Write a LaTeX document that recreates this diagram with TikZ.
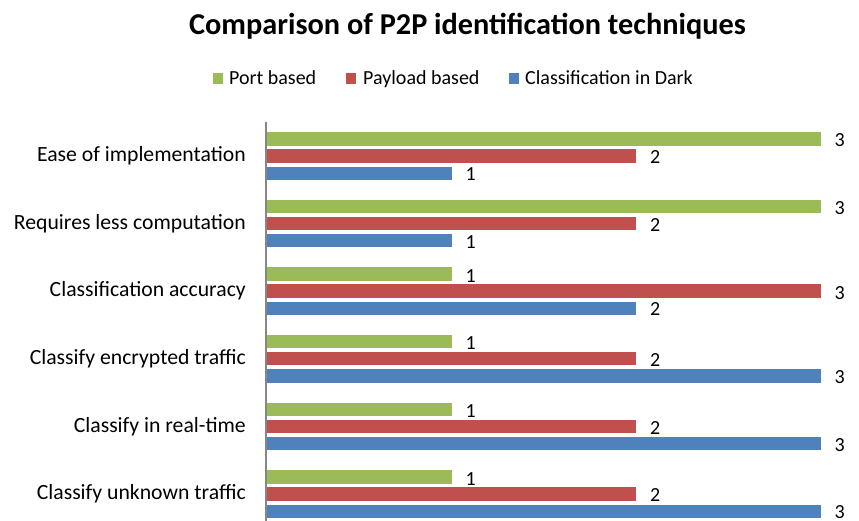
\documentclass[tikz,border=0pt]{standalone}
\usepackage{fontspec}
\setmainfont{Carlito}
\usepackage{xcolor}

\definecolor{portgreen}{HTML}{9BBB59}
\definecolor{loadred}{HTML}{C0504D}
\definecolor{darkblue}{HTML}{4F81BD}
\definecolor{axisgray}{HTML}{868686}

\tikzset{
	chartfont/.style={font=\fontsize{20}{24}\selectfont},
	keybox/.style={minimum width=10pt, minimum height=11pt, inner sep=0pt},
	keylabel/.style={chartfont, anchor=base west, inner sep=0pt},
	catlabel/.style={font=\fontsize{21.7}{26}\selectfont, anchor=base east, inner sep=0pt},
	vallabel/.style={chartfont, anchor=base west, inner sep=0pt}
}

\begin{document}
\begin{tikzpicture}[x=1pt,y=-1pt]
	\useasboundingbox (0,0) rectangle (859,521);
	% title
	\node[font=\bfseries\fontsize{30.3}{36}\selectfont, anchor=base, inner sep=0pt] (title) at (467.5,35) {Comparison of P2P identification techniques};
	% legend
	\node[keybox, fill=portgreen] (keyport) at (218,78.5) {};
	\node[keylabel] (txtport) at (229,85) {Port based};
	\node[keybox, fill=loadred] (keyload) at (351,78.5) {};
	\node[keylabel] (txtload) at (363,85) {Payload based};
	\node[keybox, fill=darkblue] (keydark) at (514,78.5) {};
	\node[keylabel] (txtdark) at (525,85) {Classification in Dark};
	% bars
	\foreach \lab/\p/\q/\r [count=\i from 0] in {
		Ease of implementation/3/2/1,
		Requires less computation/3/2/1,
		Classification accuracy/1/3/2,
		Classify encrypted traffic/1/2/3,
		Classify in real-time/1/2/3,
		Classify unknown traffic/1/2/3}
	{
		\pgfmathsetmacro\g{132.3+67.6*\i}
		\fill[portgreen] (267,\g) rectangle ({267+184.5*\p},\g+13.3);
		\fill[loadred] (267,\g+17) rectangle ({267+184.5*\q},\g+30.3);
		\fill[darkblue] (267,\g+34.3) rectangle ({267+184.5*\r},\g+47.6);
		\node[vallabel] (vp\i) at ({267+184.5*\p+14},\g+14.7) {\p};
		\node[vallabel] (vq\i) at ({267+184.5*\q+14},\g+31.6) {\q};
		\node[vallabel] (vr\i) at ({267+184.5*\r+14},\g+48.3) {\r};
		\node[catlabel] (cat\i) at (246,\g+29.4) {\lab};
	}
	% axis
	\coordinate (axtop) at (266,122);
	\coordinate (axbot) at (266,521);
	\draw[axisgray, line width=1.5pt] (axtop) -- (axbot);
\end{tikzpicture}
\end{document}
